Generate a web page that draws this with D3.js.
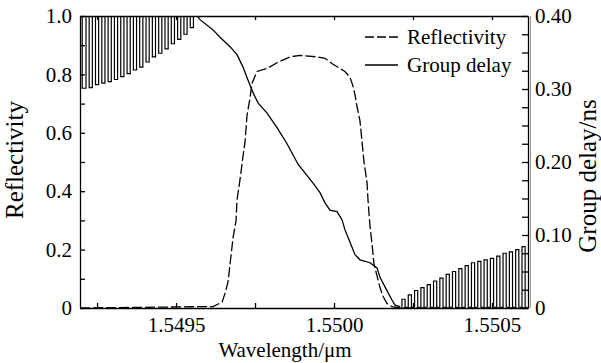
<!DOCTYPE html>
<html>
<head>
<meta charset="utf-8">
<script src="https://cdn.jsdelivr.net/npm/d3@7"></script>
<style>
  body { margin: 0; background: #fff; }
  svg, svg text { font-family: "Liberation Serif", "Times New Roman", serif; }
</style>
</head>
<body>
<div id="chart"></div>
<script>
// axis ticks and labels
const wlTicks = [1.54925, 1.5495, 1.54975, 1.5500, 1.55025, 1.5505];
const wlLabels = ["", "1.5495", "", "1.5500", "", "1.5505"];
const reflTicks = [0, 0.1, 0.2, 0.3, 0.4, 0.5, 0.6, 0.7, 0.8, 0.9, 1.0];
const reflLabels = ["0", "", "0.2", "", "0.4", "", "0.6", "", "0.8", "", "1.0"];
const gdTicks = [0, 0.025, 0.05, 0.075, 0.1, 0.125, 0.15, 0.175, 0.2, 0.225, 0.25, 0.275, 0.3, 0.325, 0.35, 0.375, 0.4];
const gdLabels = ["0", "", "", "", "0.10", "", "", "", "0.20", "", "", "", "0.30", "", "", "", "0.40"];

// reflectivity (dashed)
const reflWl = [1.549196, 1.5496171, 1.5496456, 1.5496551, 1.5496646, 1.5496709, 1.5496804, 1.5496899, 1.5496930,
  1.5497025, 1.5497120, 1.5497184, 1.5497247, 1.5497342, 1.5497405, 1.5497563, 1.5497880, 1.5498196, 1.5498608,
  1.5498924, 1.5499462, 1.5499715, 1.5499968, 1.5500190, 1.5500348, 1.5500506, 1.5500601, 1.5500665, 1.5500728,
  1.5500823, 1.5500886, 1.5500949, 1.5501044, 1.5501076, 1.5501139, 1.5501203, 1.5501266, 1.5501361, 1.5501456,
  1.5501551, 1.5501677, 1.5501835, 1.5502089, 1.550614];
const reflVal = [0, 0.005, 0.02, 0.05, 0.09, 0.15, 0.24, 0.30, 0.37,
  0.44, 0.52, 0.57, 0.66, 0.72, 0.77, 0.81, 0.82, 0.84, 0.86,
  0.865, 0.86, 0.855, 0.835, 0.82, 0.81, 0.79, 0.76, 0.73, 0.69,
  0.64, 0.57, 0.50, 0.43, 0.37, 0.28, 0.22, 0.15, 0.11, 0.07,
  0.04, 0.015, 0.005, 0, 0];

// group delay, short-wavelength side lobes (peaks go off scale)
const gdLeftWl = [1.549196, 1.54921, 1.54922, 1.54923, 1.54924, 1.54925, 1.54926, 1.54927, 1.54928, 1.54929,
  1.54930, 1.54931, 1.54932, 1.54933, 1.54934, 1.54935, 1.54936, 1.54937, 1.54938, 1.54939,
  1.54940, 1.54941, 1.54942, 1.54943, 1.54944, 1.54945, 1.54946, 1.54947, 1.54948, 1.54949,
  1.54950, 1.54951, 1.54952, 1.54953, 1.54954, 1.54955, 1.54956];
const gdLeftVal = [0.6, 0.301, 0.6, 0.302, 0.6, 0.306, 0.6, 0.308, 0.6, 0.310,
  0.6, 0.313, 0.6, 0.317, 0.6, 0.321, 0.6, 0.326, 0.6, 0.330,
  0.6, 0.337, 0.6, 0.344, 0.6, 0.349, 0.6, 0.355, 0.6, 0.362,
  0.6, 0.368, 0.6, 0.375, 0.6, 0.384, 0.6];

// group delay, in band
const gdMainWl = [1.5495665, 1.5495760, 1.5496171, 1.5496392, 1.5496709, 1.5496930, 1.5497120, 1.5497279,
  1.5497437, 1.5497595, 1.5497880, 1.5498196, 1.5498513, 1.5498861, 1.5499336, 1.5499557, 1.5499715,
  1.5499873, 1.5500095, 1.5500253, 1.5500348, 1.5500506, 1.5500665, 1.5500823, 1.5501139, 1.5501361,
  1.5501456, 1.5501614, 1.5501709, 1.5501835, 1.5501930, 1.5502089];
const gdMainVal = [0.40, 0.395, 0.381, 0.371, 0.358, 0.347, 0.330, 0.312,
  0.295, 0.281, 0.267, 0.247, 0.225, 0.197, 0.171, 0.158, 0.144,
  0.134, 0.132, 0.121, 0.107, 0.090, 0.073, 0.066, 0.062, 0.055,
  0.042, 0.029, 0.021, 0.011, 0.004, 0.002];

// group delay, long-wavelength side lobes
const gdRightWl = [1.55021, 1.55022, 1.55023, 1.55024, 1.55025, 1.55026, 1.55027, 1.55028, 1.55029, 1.55030,
  1.55031, 1.55032, 1.55033, 1.55034, 1.55035, 1.55036, 1.55037, 1.55038, 1.55039, 1.55040,
  1.55041, 1.55042, 1.55043, 1.55044, 1.55045, 1.55046, 1.55047, 1.55048, 1.55049, 1.55050,
  1.55051, 1.55052, 1.55053, 1.55054, 1.55055, 1.55056, 1.55057, 1.55058, 1.55059, 1.55060, 1.55061];
const gdRightVal = [0.001, 0.012, 0.001, 0.018, 0.001, 0.024, 0.001, 0.028, 0.001, 0.032,
  0.001, 0.037, 0.001, 0.041, 0.001, 0.046, 0.001, 0.050, 0.001, 0.054,
  0.001, 0.058, 0.001, 0.062, 0.001, 0.064, 0.001, 0.066, 0.001, 0.068,
  0.001, 0.071, 0.001, 0.075, 0.001, 0.077, 0.001, 0.080, 0.001, 0.084, 0.001];

// set the dimensions and margins of the graph
const margin = {top: 16, right: 73, bottom: 55, left: 80},
      width = 601 - margin.left - margin.right,
      height = 363 - margin.top - margin.bottom;

const root = d3.select("#chart")
  .append("svg")
  .attr("width", 601)
  .attr("height", 363);

const svg = root.append("g")
  .attr("transform", `translate(${margin.left},${margin.top})`);

const x = d3.scaleLinear().domain([1.549196, 1.550614]).range([0, width]);
const yR = d3.scaleLinear().domain([0, 1]).range([height, 0]);
const yG = d3.scaleLinear().domain([0, 0.4]).range([height, 0]);

svg.append("clipPath").attr("id", "clip")
  .append("rect").attr("width", width).attr("height", height);

const plot = svg.append("g").attr("clip-path", "url(#clip)");

const mkLine = (ys, curve) => d3.line().x(d => x(d[0])).y(d => ys(d[1])).curve(curve);

plot.append("path")
  .datum(d3.zip(reflWl, reflVal))
  .attr("fill", "none").attr("stroke", "#000").attr("stroke-width", 1.3)
  .attr("stroke-dasharray", "10,3")
  .attr("d", mkLine(yR, d3.curveLinear));

plot.append("path")
  .datum(d3.zip(gdLeftWl, gdLeftVal))
  .attr("fill", "none").attr("stroke", "#000").attr("stroke-width", 1.2)
  .attr("d", mkLine(yG, d3.curveStep));

plot.append("path")
  .datum(d3.zip(gdMainWl, gdMainVal))
  .attr("fill", "none").attr("stroke", "#000").attr("stroke-width", 1.3)
  .attr("d", mkLine(yG, d3.curveLinear));

plot.append("path")
  .datum(d3.zip(gdRightWl, gdRightVal))
  .attr("fill", "none").attr("stroke", "#000").attr("stroke-width", 1.2)
  .attr("d", mkLine(yG, d3.curveStep));

// axes (ticks point inward)
function style(g) {
  g.attr("font-size", 21).attr("font-family", null);
  g.selectAll("path, line").attr("stroke", "#000").attr("stroke-width", 1.3);
}

svg.append("g")
  .attr("transform", `translate(0,${height})`)
  .call(d3.axisBottom(x).tickValues(wlTicks).tickFormat((d, i) => wlLabels[i])
    .tickSize(-5).tickSizeOuter(0).tickPadding(9))
  .call(style);

svg.append("g")
  .call(d3.axisTop(x).tickValues(wlTicks).tickFormat("")
    .tickSize(-4).tickSizeOuter(0))
  .call(style);

svg.append("g")
  .call(d3.axisLeft(yR).tickValues(reflTicks).tickFormat((d, i) => reflLabels[i])
    .tickSize(-5).tickSizeOuter(0).tickPadding(8))
  .call(style);

svg.append("g")
  .attr("transform", `translate(${width},0)`)
  .call(d3.axisRight(yG).tickValues(gdTicks).tickFormat((d, i) => gdLabels[i])
    .tickSize(-6).tickSizeOuter(0).tickPadding(7))
  .call(style);

// second thin line along the right axis
svg.append("line")
  .attr("x1", width + 2.5).attr("x2", width + 2.5)
  .attr("y1", 0).attr("y2", height)
  .attr("stroke", "#999").attr("stroke-width", 1);

// legend
const legend = svg.append("g").attr("font-size", 21);
legend.append("line")
  .attr("x1", 285).attr("x2", 318).attr("y1", 21).attr("y2", 21)
  .attr("stroke", "#000").attr("stroke-width", 1.3).attr("stroke-dasharray", "9,3");
legend.append("text").attr("x", 327).attr("y", 28).text("Reflectivity");
legend.append("line")
  .attr("x1", 285).attr("x2", 318).attr("y1", 49).attr("y2", 49)
  .attr("stroke", "#000").attr("stroke-width", 1.3);
legend.append("text").attr("x", 327).attr("y", 56).text("Group delay");

// axis titles
root.append("text")
  .attr("x", 285).attr("y", 357)
  .attr("text-anchor", "middle").attr("font-size", 21)
  .text("Wavelength/μm");

root.append("text")
  .attr("transform", "translate(23,160) rotate(-90)")
  .attr("text-anchor", "middle").attr("font-size", 25)
  .text("Reflectivity");

root.append("text")
  .attr("transform", "translate(596,176) rotate(-90)")
  .attr("text-anchor", "middle").attr("font-size", 25)
  .text("Group delay/ns");
</script>
</body>
</html>
